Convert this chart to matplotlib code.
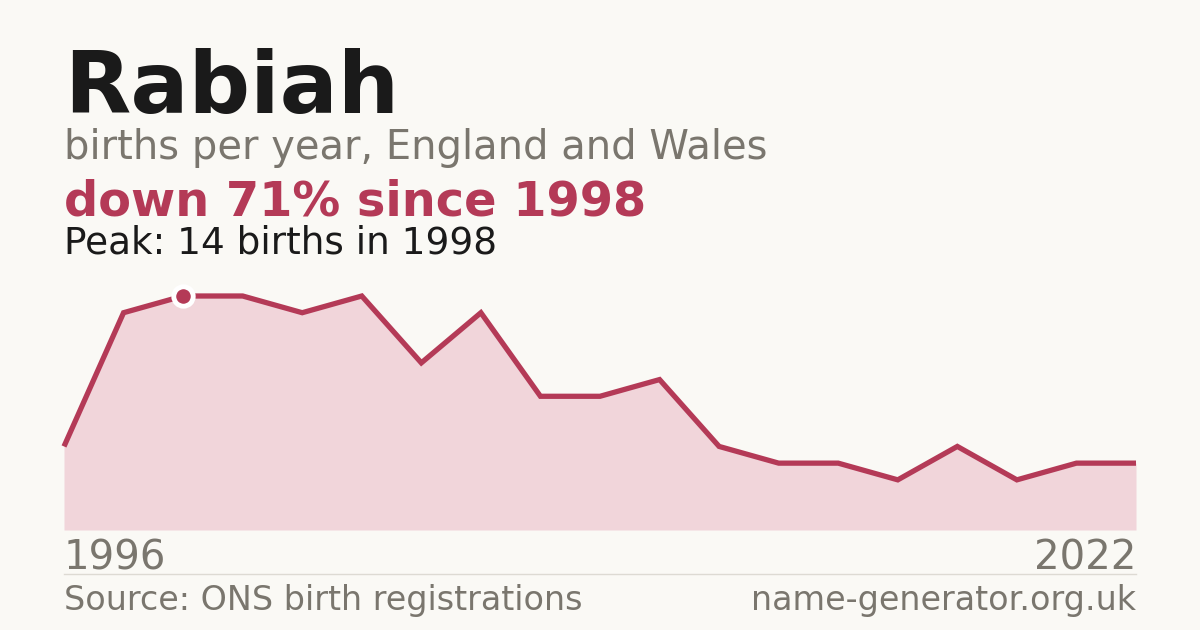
import matplotlib.pyplot as plt

# Data
years = [1996, 1997, 1998, 1999, 2000, 2001, 2002, 2003, 2004, 2005,
         2006, 2007, 2008, 2009, 2010, 2011, 2012, 2013, 2022]
births = [5, 13, 14, 14, 13, 14, 10, 13, 8, 8, 9, 5, 4, 4, 3, 5, 3, 4, 4]
peak_idx = 2

# Colours
bg = '#faf9f5'
crimson = '#b43a57'
fill_col = '#f1d5da'
grey = '#7a766e'
dark = '#1a1a1a'

W, H = 1200, 630
fig = plt.figure(figsize=(12, 6.3), dpi=100, facecolor=bg)

def fx(px):
    return px / W

def fy(py):
    return 1 - py / H

# Header text
fig.text(fx(64), fy(113), 'Rabiah', fontsize=62, fontweight='bold', color=dark, va='baseline')
fig.text(fx(64), fy(159), 'births per year, England and Wales', fontsize=28.8, color=grey, va='baseline')
fig.text(fx(64), fy(215), 'down 71% since 1998', fontsize=34.5, fontweight='bold', color=crimson, va='baseline')
fig.text(fx(64), fy(253), 'Peak: 14 births in 1998', fontsize=26.9, color=dark, va='baseline')

# Chart
ax = fig.add_axes([fx(64), fy(530), fx(1136) - fx(64), fy(296) - fy(530)])
ax.set_facecolor(bg)
xs = list(range(len(births)))
ax.fill_between(xs, 0, births, color=fill_col, linewidth=0)
ax.plot(xs, births, color=crimson, linewidth=3.8, solid_joinstyle='miter',
        solid_capstyle='butt', clip_on=False)
ax.plot(xs[peak_idx], births[peak_idx], 'o', color=crimson, markersize=14,
        markeredgecolor='white', markeredgewidth=3.5, clip_on=False, zorder=5)
ax.set_xlim(0, len(births) - 1)
ax.set_ylim(0, max(births))
ax.axis('off')

# Axis end labels
fig.text(fx(64), fy(570), str(years[0]), fontsize=29, color=grey, va='baseline')
fig.text(fx(1136), fy(570), str(years[-1]), fontsize=29, color=grey, va='baseline', ha='right')

# Separator and footer
fig.add_artist(plt.Line2D([fx(64), fx(1136)], [fy(574), fy(574)], color='#dddad3', linewidth=1))
fig.text(fx(64), fy(610), 'Source: ONS birth registrations', fontsize=24, color=grey, va='baseline')
fig.text(fx(1136), fy(610), 'name-generator.org.uk', fontsize=24, color=grey, va='baseline', ha='right')

fig.savefig('out.png', dpi=100, facecolor=bg)
